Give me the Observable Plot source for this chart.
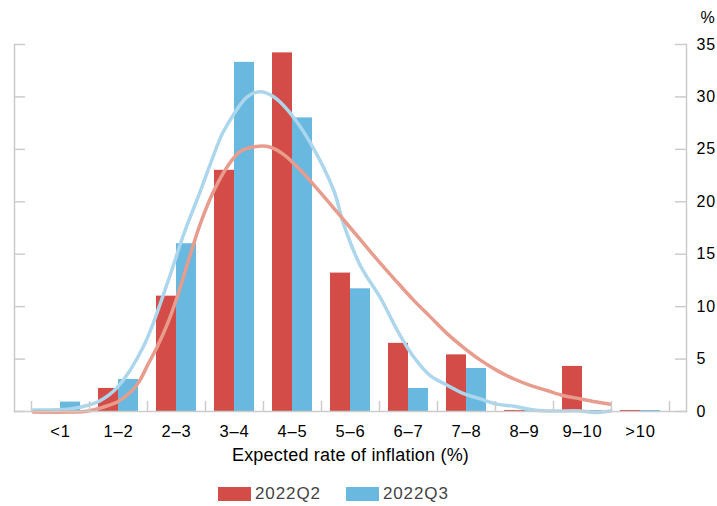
<!DOCTYPE html>
<html>
<head>
<meta charset="utf-8">
<script src="https://cdn.jsdelivr.net/npm/d3@7"></script>
<script src="https://cdn.jsdelivr.net/npm/@observablehq/plot@0.6"></script>
<style>
  body { margin: 0; background: #fff; font-family: "Liberation Sans", Arial, sans-serif; }
  #wrap { position: relative; width: 717px; height: 506px; }
  .legend { position: absolute; left: 218px; top: 484px; display: flex; align-items: center;
            font-size: 17px; color: #444; letter-spacing: 0.9px; line-height: 20px; }
  .item { display: flex; align-items: center; margin-right: 25px; }
  .sw { display: inline-block; width: 33px; height: 14px; margin-right: 4px; }
</style>
</head>
<body>
<div id="wrap"></div>
<script>
// ---- data ----
const categories = ["<1", "1–2", "2–3", "3–4", "4–5", "5–6", "6–7", "7–8", "8–9", "9–10", ">10"];
const q2Values = [0, 2.2, 11.0, 23.0, 34.2, 13.2, 6.5, 5.4, 0.1, 4.3, 0.1];
const q3Values = [0.9, 3.05, 16.0, 33.3, 28.0, 11.7, 2.2, 4.1, 0.1, 0.1, 0.1];
const seriesNames = ["2022Q2", "2022Q3"];

// density curves (x = inflation rate, y = %)
const q2CurveX = [0.03, 0.67, 0.96, 1.13, 1.31, 1.48, 1.71, 1.85, 2.0, 2.17, 2.34, 2.51, 2.74, 2.91, 3.14, 3.37, 3.6, 3.92, 4.12, 4.35, 4.64, 4.93, 5.21, 5.5, 5.76, 6.02, 6.31, 6.59, 6.88, 7.17, 7.45, 7.74, 8.03, 8.32, 8.6, 8.89, 9.18, 9.47, 9.75, 9.98];
const q2CurveY = [-0.05, -0.05, 0.03, 0.25, 0.55, 0.9, 1.85, 2.8, 4.4, 6.2, 8.3, 10.9, 15.0, 17.9, 21.0, 23.3, 24.8, 25.3, 25.2, 24.5, 23.0, 21.2, 19.4, 17.5, 15.8, 14.1, 12.3, 10.6, 9.0, 7.4, 6.1, 4.9, 3.9, 3.1, 2.5, 2.0, 1.5, 1.2, 0.9, 0.7];
const q3CurveX = [0.03, 0.67, 0.96, 1.19, 1.48, 1.93, 2.34, 2.63, 2.91, 3.22, 3.32, 3.72, 3.95, 4.18, 4.44, 4.81, 5.21, 5.38, 5.67, 6.02, 6.31, 6.59, 6.88, 7.17, 7.45, 7.74, 8.03, 8.32, 8.6, 8.89, 9.47, 9.69, 9.98];
const q3CurveY = [0.15, 0.25, 0.57, 1.05, 2.3, 6.2, 12.2, 17.0, 21.0, 25.6, 26.8, 30.0, 30.5, 30.0, 28.6, 25.6, 21.1, 17.9, 13.9, 10.8, 7.7, 5.2, 3.4, 2.5, 1.7, 1.2, 0.7, 0.5, 0.2, 0.05, 0.05, -0.1, 0.05];

const yTicks = [0, 5, 10, 15, 20, 25, 30, 35];
const xTitle = "Expected rate of inflation (%)";
const yUnit = "%";

// ---- styles ----
const RED = "#d44c47", BLUE = "#69b8df", LRED = "#e89c8d", LBLUE = "#acd6ec", GRAY = "#cccccc";

// ---- build tables ----
const rows = categories.map((c, i) => ({ i, c, q2: q2Values[i], q3: q3Values[i] }));
const q2Curve = q2CurveX.map((x, k) => ({ x, y: q2CurveY[k] }));
const q3Curve = q3CurveX.map((x, k) => ({ x, y: q3CurveY[k] }));
const bounds = d3.range(categories.length + 1);
const centers = categories.map((c, i) => i + 0.5);

const W = 717, H = 506;
const frameTop = 44, frameBase = 411, frameLeft = 14, frameRight = 686;
const fh = frameBase - frameTop, fw = frameRight - frameLeft;

const chart = Plot.plot({
  width: W, height: H,
  marginTop: frameTop, marginBottom: H - frameBase, marginLeft: frameLeft, marginRight: W - frameRight,
  style: { fontFamily: "'Liberation Sans', Arial, sans-serif", fontSize: "16px", color: "#000", background: "#fff", letterSpacing: "0.8px" },
  x: { domain: [0, categories.length], insetLeft: 17, insetRight: 17, axis: null },
  y: { domain: [0, 35], axis: null },
  marks: [
    Plot.rectY(rows, { x1: d => d.i + 0.155, x2: d => d.i + 0.5, y: "q2", fill: RED }),
    Plot.rectY(rows, { x1: d => d.i + 0.5, x2: d => d.i + 0.845, y: "q3", fill: BLUE }),
    Plot.line(q3Curve, { x: "x", y: "y", stroke: LBLUE, strokeWidth: 3.5, curve: "catmull-rom" }),
    Plot.line(q2Curve, { x: "x", y: "y", stroke: LRED, strokeWidth: 3.5, curve: "catmull-rom" }),
    Plot.frame({ anchor: "bottom", stroke: GRAY, strokeWidth: 1.5 }),
    Plot.frame({ anchor: "left", stroke: GRAY, strokeWidth: 1.5 }),
    Plot.frame({ anchor: "right", stroke: GRAY, strokeWidth: 1.5 }),
    Plot.tickX(bounds, { x: d => d, insetTop: fh - 10, stroke: GRAY, strokeWidth: 1.5 }),
    Plot.tickY(yTicks, { y: d => d, insetRight: fw - 11, stroke: GRAY, strokeWidth: 1.5 }),
    Plot.tickY(yTicks, { y: d => d, insetLeft: fw - 11, stroke: GRAY, strokeWidth: 1.5 }),
    Plot.axisY(yTicks, { anchor: "right", tickSize: 0, tickPadding: 10, label: null, fontSize: 16 }),
    Plot.axisX(centers, { anchor: "bottom", tickSize: 0, tickPadding: 14, label: null, fontSize: 16.5,
                          tickFormat: d => categories[Math.floor(d)] }),
    Plot.text([yUnit], { frameAnchor: "top-right", dx: 14, dy: -33, textAnchor: "start", fontSize: 16 }),
    Plot.text([xTitle], { frameAnchor: "bottom", lineAnchor: "bottom", dy: 49, fontSize: 18 })
  ]
});

d3.select(chart).selectAll("text")
  .filter(function () { return this.textContent === xTitle; })
  .style("letter-spacing", "0.2px");

const wrap = document.getElementById("wrap");
wrap.appendChild(chart);

const legend = document.createElement("div");
legend.className = "legend";
[[seriesNames[0], RED], [seriesNames[1], BLUE]].forEach(([name, col]) => {
  const item = document.createElement("div");
  item.className = "item";
  const sw = document.createElement("span");
  sw.className = "sw";
  sw.style.background = col;
  const t = document.createElement("span");
  t.textContent = name;
  item.appendChild(sw);
  item.appendChild(t);
  legend.appendChild(item);
});
wrap.appendChild(legend);
</script>
</body>
</html>
